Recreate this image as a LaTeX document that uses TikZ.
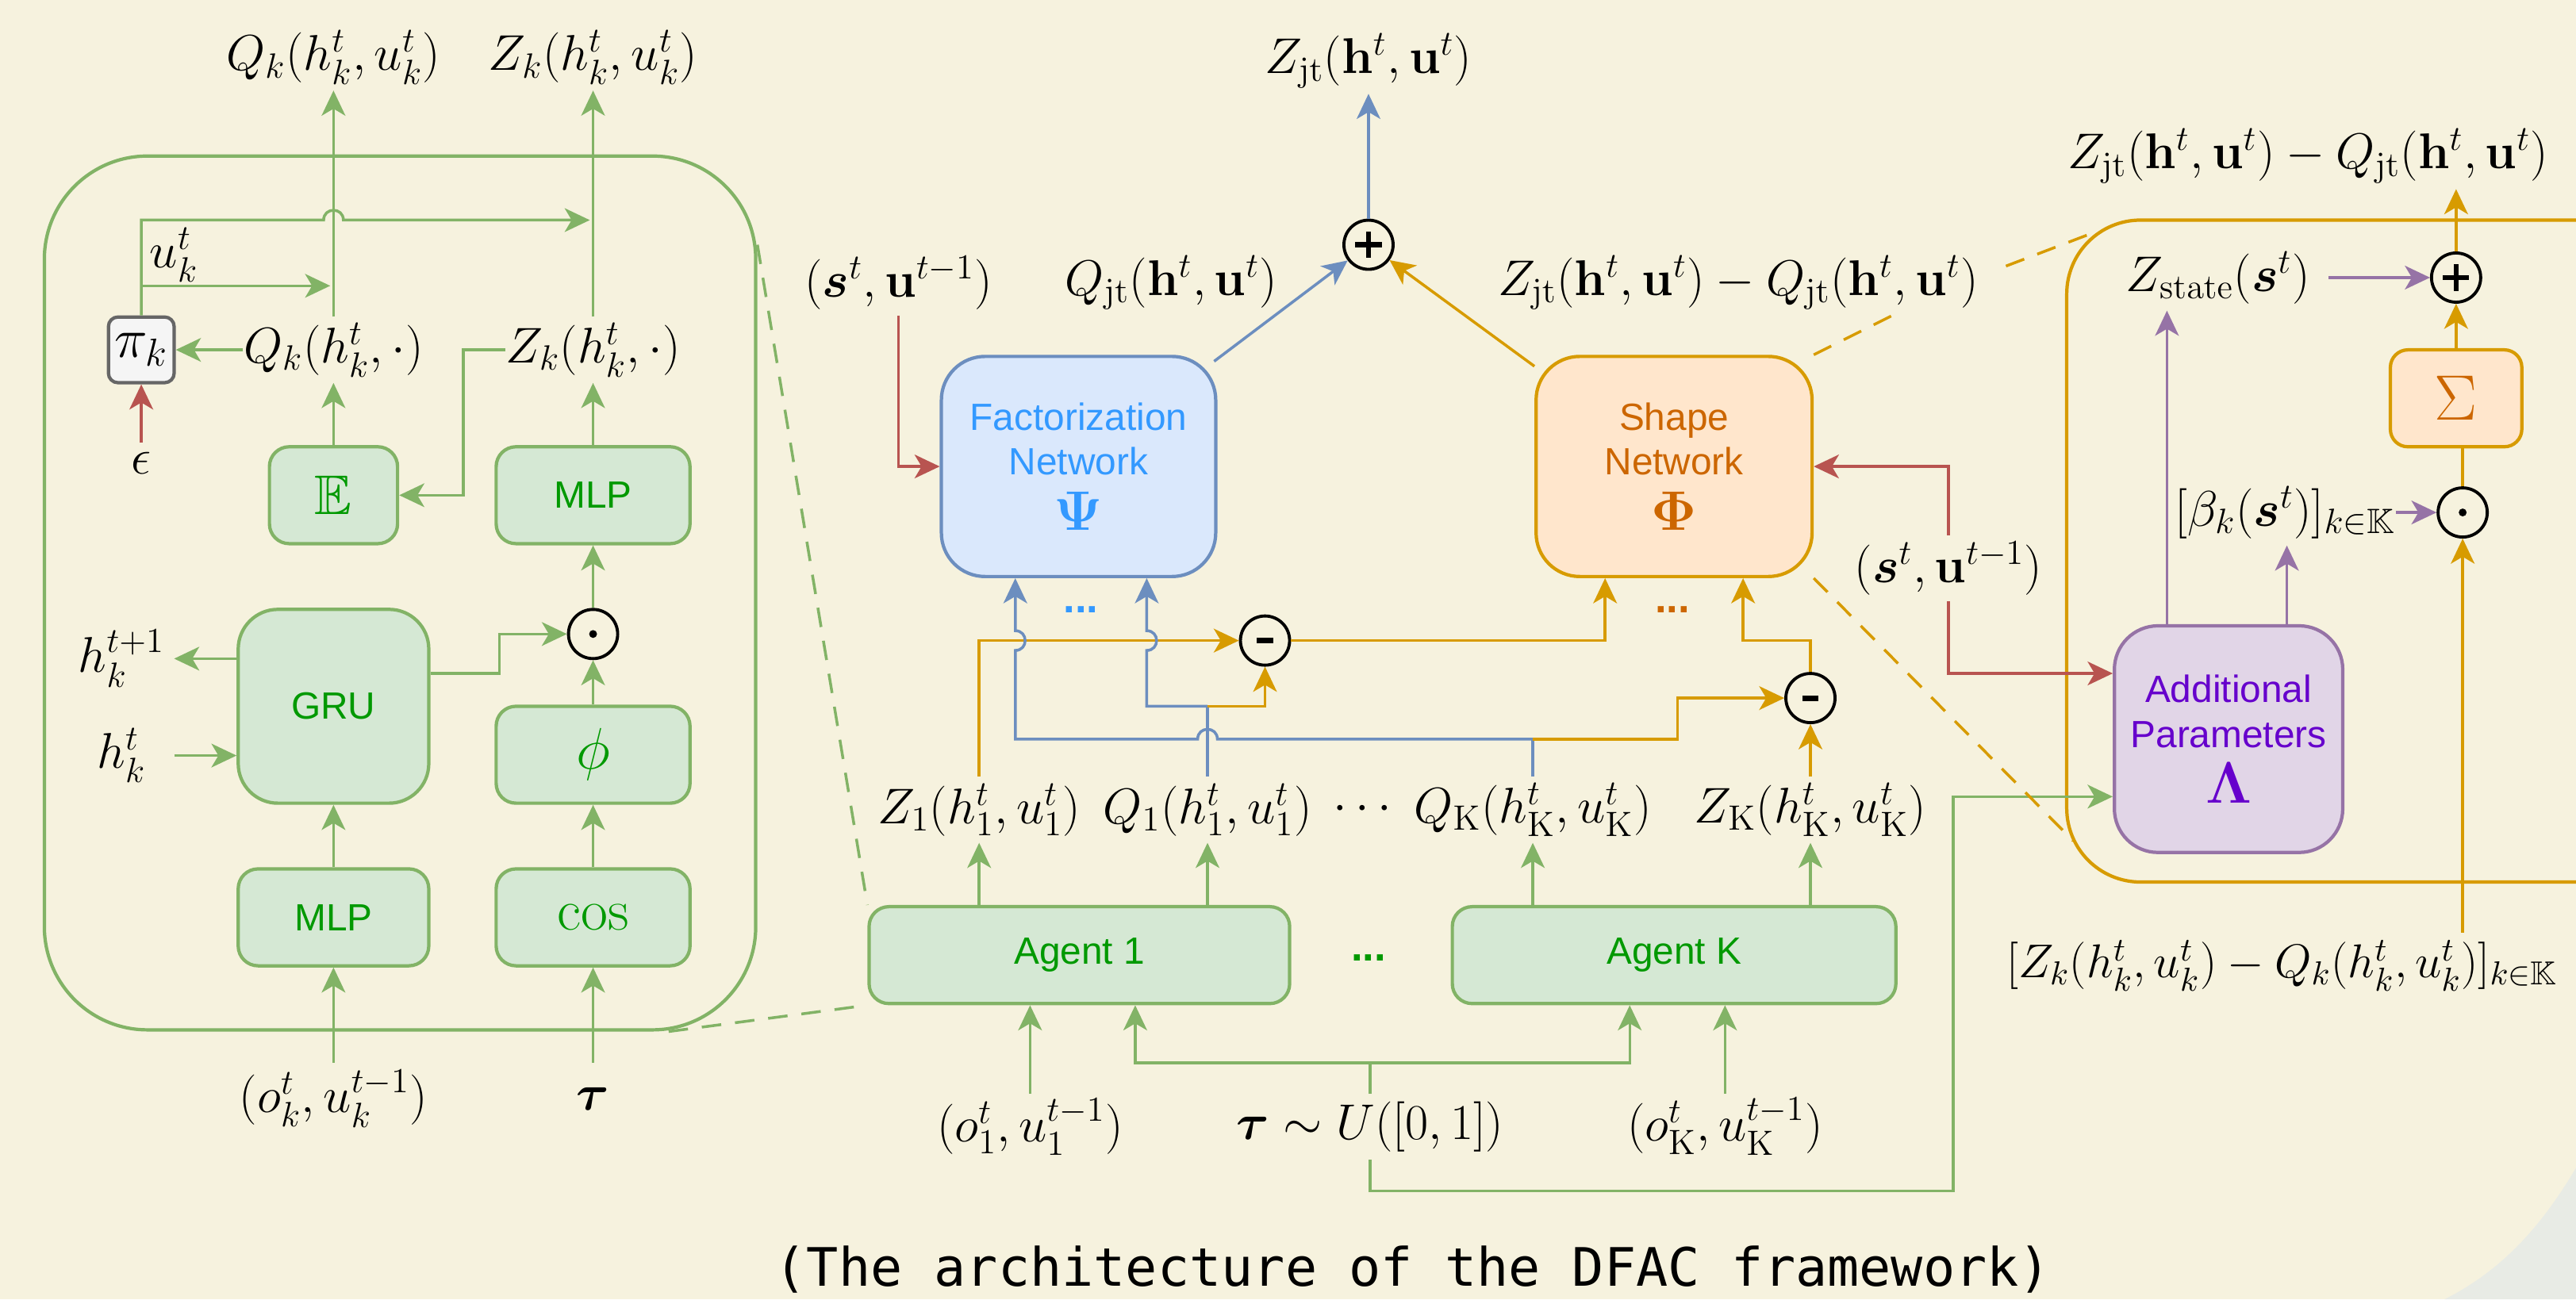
\RequirePackage{fix-cm}
\documentclass[tikz,border=0pt]{standalone}
\usepackage{amsmath,amssymb}
\usepackage[no-math]{fontspec}
\setsansfont{Liberation Sans}
\newfontfamily\capfont{DejaVu Sans Mono}
\usetikzlibrary{arrows.meta,fit,calc}
\definecolor{bgc}{HTML}{F6F2DE}
\definecolor{cornc}{HTML}{E8EBE5}
\definecolor{gS}{HTML}{82B366}
\definecolor{gF}{HTML}{D5E8D4}
\definecolor{gT}{HTML}{009900}
\definecolor{bS}{HTML}{6C8EBF}
\definecolor{bF}{HTML}{DAE8FC}
\definecolor{bT}{HTML}{3399FF}
\definecolor{oS}{HTML}{D79B00}
\definecolor{oF}{HTML}{FFE6CC}
\definecolor{oT}{HTML}{CC6600}
\definecolor{pS}{HTML}{9673A6}
\definecolor{pF}{HTML}{E1D5E7}
\definecolor{pT}{HTML}{6600CC}
\definecolor{rS}{HTML}{B85450}
\definecolor{grS}{HTML}{666666}
\definecolor{grF}{HTML}{F5F5F5}
\newcommand{\pxu}{0.020708cm}
\begin{document}
\begin{tikzpicture}[x=0.020708cm,y=-0.020708cm,
  lab/.style={inner sep=0pt,minimum height=0.82cm,font=\fontsize{18}{21}\selectfont},
  box/.style={line width=1.2pt,inner sep=0pt,align=center,font=\sffamily\fontsize{13.6}{16}\selectfont},
  sz/.style 2 args={minimum width=#1*\pxu,minimum height=#2*\pxu},
  gbox/.style={box,draw=gS,fill=gF,text=gT,rounded corners=0.25cm},
  con/.style={line width=1pt},
  arr/.style={con,-{Stealth[length=9pt,width=8.5pt,inset=2.5pt]}},
  lineG/.style={draw=gS},
  lineB/.style={draw=bS},
  lineO/.style={draw=oS},
  lineP/.style={draw=pS},
  lineR/.style={draw=rS},
  opc/.style={circle,draw=black,line width=1.1pt,minimum size=0.62cm,inner sep=0pt},
  symb/.style={line width=1.8pt,draw=black},
  dsh/.style={line width=1pt,dash pattern=on 7pt off 5pt},
  dotstyle/.style={font=\sffamily\bfseries\fontsize{15}{15}\selectfont,inner sep=0pt,anchor=base},
]
\useasboundingbox (0,0) rectangle (1568,791);
\fill[bgc] (0,0) rectangle (1568,791);
\fill[cornc] (1568,711) .. controls (1545,750) and (1520,775) .. (1488,791) -- (1568,791) -- cycle;

% containers
\node[draw=gS,line width=1.2pt,rounded corners=1.3cm,inner sep=0pt,fit={(27,95)(460,627)}] (lbox) {};
\node[draw=oS,line width=1.2pt,rounded corners=0.93cm,inner sep=0pt,fit={(1258,134)(1620,537)}] (rbox) {};

% ---------- left detail ----------
\node[lab] (qout) at (203,35) {$Q_k(h_k^t,u_k^t)$};
\node[lab] (zout) at (361,35) {$Z_k(h_k^t,u_k^t)$};
\node[lab] (uk) at (106,155) {$u_k^t$};
\node[lab] (qh) at (203,213) {$Q_k(h_k^t,\cdot)$};
\node[lab] (zh) at (361,213) {$Z_k(h_k^t,\cdot)$};
\node[box,draw=grS,fill=grF,rounded corners=0.12cm,sz={40}{40},font=\fontsize{20}{22}\selectfont] (pi) at (86,213) {$\pi_k$};
\node[lab,minimum height=0.5cm] (eps) at (86,282) {$\epsilon$};
\node[gbox,sz={78}{59},font=\fontsize{20}{22}\selectfont] (E) at (203,301.5) {$\mathbb{E}$};
\node[gbox,sz={118}{59}] (mlpa) at (361,301.5) {MLP};
\node[gbox,rounded corners=0.5cm,sz={116}{118}] (gru) at (203,430) {GRU};
\node[opc] (dot1) at (361,386) {};
\node[gbox,sz={118}{59},font=\fontsize{21}{22}\selectfont] (phi) at (361,459.5) {$\phi$};
\node[gbox,sz={116}{59}] (mlpb) at (203,558.5) {MLP};
\node[gbox,sz={118}{59},font=\fontsize{21}{22}\selectfont] (cosb) at (361,558.5) {$\cos$};
\node[lab] (hn) at (74,401) {$h_k^{t+1}$};
\node[lab] (hk) at (74,460) {$h_k^t$};
\node[lab,minimum height=0.9cm] (ok) at (203,669) {$(o_k^t,u_k^{t-1})$};
\node[lab,minimum height=0.9cm] (tau) at (361,669) {$\boldsymbol{\tau}$};
\fill (dot1) circle (2.4);

\draw[arr,lineG] (qh.north) -- (qout.south);
\draw[arr,lineG] (zh.north) -- (zout.south);
\draw[arr,lineG] (pi.north) |- (197,134) .. controls (197,126) and (209,126) .. (209,134) -- (359,134);
\draw[arr,lineG] (86,174) -- (201,174);
\draw[arr,lineG] (qh.west) -- (pi.east);
\draw[arr,lineR] (eps.north) -- (pi.south);
\draw[arr,lineG] (zh.west) -- (282,213) |- (E.east);
\draw[arr,lineG] (E.north) -- (qh.south);
\draw[arr,lineG] (mlpa.north) -- (zh.south);
\draw[arr,lineG] (dot1.north) -- (mlpa.south);
\draw[arr,lineG] (phi.north) -- (dot1.south);
\draw[arr,lineG] (cosb.north) -- (phi.south);
\draw[arr,lineG] (tau.north) -- (cosb.south);
\draw[arr,lineG] (ok.north) -- (mlpb.south);
\draw[arr,lineG] (mlpb.north) -- (gru.south);
\draw[arr,lineG] ($(gru.east)+(0,-20)$) -- (304,410) |- (dot1.west);
\draw[arr,lineG] ($(gru.west)+(0,-29)$) -- (106,401);
\draw[arr,lineG] (106,460) -- ($(gru.west)+(0,30)$);

% ---------- centre ----------
\node[lab] (zjt) at (833,37) {$Z_{\mathrm{jt}}(\mathbf{h}^t,\mathbf{u}^t)$};
\node[opc] (p1) at (833,149) {};
\draw[symb] ($(p1)+(-8,0)$) -- ($(p1)+(8,0)$) ($(p1)+(0,-8)$) -- ($(p1)+(0,8)$);
\node[lab] (stua) at (547,172) {$(\boldsymbol{s}^t,\mathbf{u}^{t-1})$};
\node[lab] (qjt) at (713,172) {$Q_{\mathrm{jt}}(\mathbf{h}^t,\mathbf{u}^t)$};
\node[lab] (zqm) at (1058,172) {$Z_{\mathrm{jt}}(\mathbf{h}^t,\mathbf{u}^t)-Q_{\mathrm{jt}}(\mathbf{h}^t,\mathbf{u}^t)$};
\node[box,draw=bS,fill=bF,text=bT,rounded corners=0.55cm,sz={167}{134}] (fac) at (656.5,284) {Factorization\\Network\\[4pt]{\fontsize{20}{22}\selectfont$\boldsymbol{\Psi}$}};
\node[box,draw=oS,fill=oF,text=oT,rounded corners=0.55cm,sz={168}{134}] (shp) at (1019,284) {Shape\\Network\\[4pt]{\fontsize{20}{22}\selectfont$\boldsymbol{\Phi}$}};
\node[dotstyle,text=bT] (bdots) at (658,373) {...};
\node[dotstyle,text=oT] (odots) at (1018,373) {...};
\node[opc] (m1) at (770,390) {};
\node[opc] (m2) at (1102,425) {};
\draw[symb,line width=2pt] ($(m1)+(-5,0)$) -- ($(m1)+(5,0)$);
\draw[symb,line width=2pt] ($(m2)+(-5,0)$) -- ($(m2)+(5,0)$);
\node[lab] (z1) at (596,493) {$Z_1(h_1^t,u_1^t)$};
\node[lab] (q1) at (735,493) {$Q_1(h_1^t,u_1^t)$};
\node[lab] (cdots) at (832,493) {$\cdots$};
\node[lab] (qK) at (933,493) {$Q_{\mathrm{K}}(h_{\mathrm{K}}^t,u_{\mathrm{K}}^t)$};
\node[lab] (zK) at (1102,493) {$Z_{\mathrm{K}}(h_{\mathrm{K}}^t,u_{\mathrm{K}}^t)$};
\node[gbox,sz={256}{59}] (ag1) at (657,581.5) {Agent 1};
\node[gbox,sz={270}{59}] (agK) at (1019,581.5) {Agent K};
\node[dotstyle,text=gT] (gdots) at (833,585) {...};
\node[lab] (o1) at (627,686) {$(o_1^t,u_1^{t-1})$};
\node[lab] (tu) at (834,686) {$\boldsymbol{\tau}\sim U([0,1])$};
\node[lab] (oK) at (1050,686) {$(o_{\mathrm{K}}^t,u_{\mathrm{K}}^{t-1})$};

\draw[arr,lineB] (p1.north) -- (zjt.south);
\draw[arr,lineB] ($(fac.north east)+(-2,4)$) -- (p1);
\draw[arr,lineO] ($(shp.north west)+(0,7)$) -- (p1);
\draw[arr,lineR] (stua.south) |- (fac.west);

\draw[arr,lineO] (z1.north) |- (m1.west);
\draw[arr,lineO] (m1.east) -| (shp.south -| 977,0);
\draw[con,lineB] (q1.north) -- (735,430);
\draw[arr,lineB] (735,430) -- (698,430) -- (698,396) .. controls (706,396) and (706,384) .. (698,384) -- (fac.south -| 698,0);
\draw[arr,lineO] (735,430) -| (m1.south);
\draw[con,lineB] (qK.north) -- (933,450);
\draw[arr,lineB] (933,450) -- (741,450) .. controls (741,442) and (729,442) .. (729,450) -- (618,450) -- (618,396) .. controls (626,396) and (626,384) .. (618,384) -- (fac.south -| 618,0);
\draw[arr,lineO] (933,450) -- (1021,450) |- (m2.west);
\draw[arr,lineO] (zK.north) -- (m2.south);
\draw[arr,lineO] (m2.north) -- (1102,390) -| (shp.south -| 1061,0);

\draw[arr,lineG] (ag1.north -| z1.south) -- (z1.south);
\draw[arr,lineG] (ag1.north -| q1.south) -- (q1.south);
\draw[arr,lineG] (agK.north -| qK.south) -- (qK.south);
\draw[arr,lineG] (agK.north -| zK.south) -- (zK.south);
\draw[arr,lineG] (o1.north) -- (ag1.south -| o1.north);
\draw[con,lineG] (tu.north) -- (834,647);
\draw[arr,lineG] (834,647) -| (ag1.south -| 691,0);
\draw[arr,lineG] (834,647) -| (agK.south -| 992,0);
\draw[arr,lineG] (oK.north) -- (agK.south -| oK.north);

% ---------- right ----------
\node[lab] (zqt) at (1405,95) {$Z_{\mathrm{jt}}(\mathbf{h}^t,\mathbf{u}^t)-Q_{\mathrm{jt}}(\mathbf{h}^t,\mathbf{u}^t)$};
\node[opc] (p2) at (1495,169) {};
\draw[symb] ($(p2)+(-8,0)$) -- ($(p2)+(8,0)$) ($(p2)+(0,-8)$) -- ($(p2)+(0,8)$);
\node[lab] (zs) at (1350,169) {$Z_{\mathrm{state}}(\boldsymbol{s}^t)$};
\node[box,draw=oS,fill=oF,text=oT,rounded corners=0.22cm,sz={80}{59},font=\fontsize{23}{24}\selectfont] (sig) at (1495,242.5) {$\Sigma$};
\node[opc] (d2) at (1499,312) {};
\fill (d2) circle (2.4);
\node[lab] (bet) at (1391,312) {$[\beta_k(\boldsymbol{s}^t)]_{k\in\mathbb{K}}$};
\node[lab] (stub) at (1186,346) {$(\boldsymbol{s}^t,\mathbf{u}^{t-1})$};
\node[box,draw=pS,fill=pF,text=pT,rounded corners=0.55cm,sz={139}{138}] (ap) at (1356.5,450) {Additional\\Parameters\\[4pt]{\fontsize{21}{22}\selectfont$\boldsymbol{\Lambda}$}};
\node[lab,anchor=west,font=\fontsize{17}{20}\selectfont] (zqk) at (1221,588) {$[Z_k(h_k^t,u_k^t)-Q_k(h_k^t,u_k^t)]_{k\in\mathbb{K}}$};

\draw[arr,lineO] (p2.north) -- (p2.north |- zqt.south);
\draw[arr,lineO] (sig.north) -- (p2.south);
\draw[con,lineO] (d2.north) -- (sig.south -| d2.north);
\draw[arr,lineO] (d2.south |- zqk.north) -- (d2.south);
\draw[arr,lineP] ($(zs.east)+(11,0)$) -- (p2.west);
\draw[arr,lineP] (bet.east) -- (d2.west);
\draw[arr,lineP] (ap.north -| 1319,0) -- (zs.south -| 1319,0);
\draw[arr,lineP] (ap.north -| 1392,0) -- (bet.south -| 1392,0);
\draw[arr,lineR] (stub.north) |- (shp.east |- 0,284);
\draw[arr,lineR] (stub.south) |- (ap.west |- 0,410);
\draw[arr,lineG] (tu.south) -- (834,725) -| (1189,485) -- (ap.west |- 0,485);

% dashed zoom guides
\draw[dsh,lineG] (lbox.east |- 0,149) -- (ag1.north west);
\draw[dsh,lineG] (lbox.south -| 407,0) -- (ag1.south west);
\draw[dsh,lineO] (shp.north east) -- (1152,192);
\draw[dsh,lineO] (1221,162) -- (1276,141);
\draw[dsh,lineO] (shp.south east) -- (1262,512);

\node[font=\capfont\fontsize{19}{22}\selectfont,inner sep=0pt] (cap) at (860,773) {(The architecture of the DFAC framework)};
\end{tikzpicture}
\end{document}
